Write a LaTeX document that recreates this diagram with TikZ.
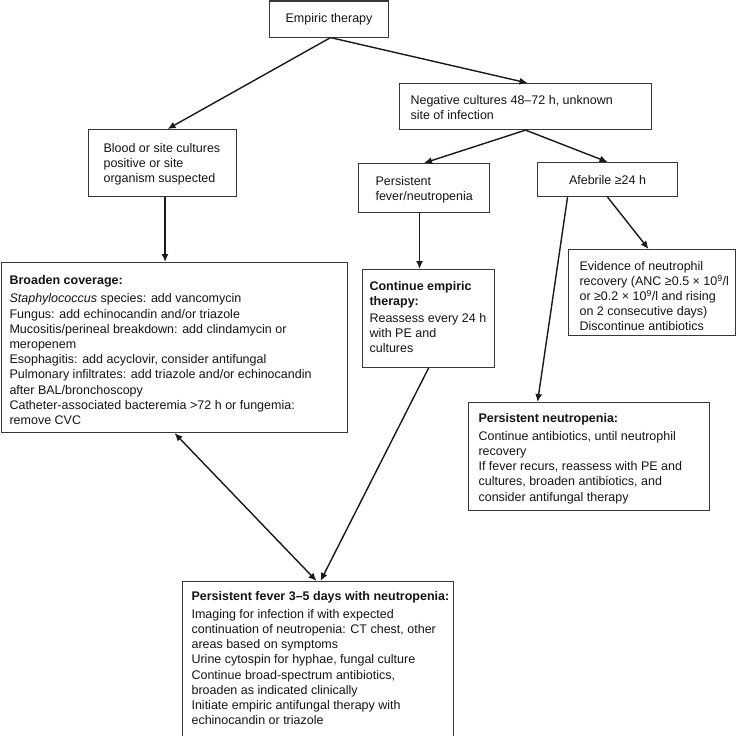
\documentclass[tikz,border=0pt]{standalone}
\usepackage{fontspec}
\setmainfont{Liberation Sans}
\usetikzlibrary{arrows.meta,calc}
\newcommand{\boxfont}{\fontsize{12.5}{15.2}\selectfont\lineskiplimit=-20pt\relax}
% #1 width, #2 height, #3 left padding, #4 top padding, #5 content
\newcommand{\bxt}[5]{\hbox to #1pt{\kern#3pt\parbox[c][#2pt][t]{\dimexpr#1pt-#3pt\relax}{\raggedright\vspace*{#4pt}\strut #5}\hss}}
\tikzset{
  box/.style={draw=black!78, line width=1.1pt, inner sep=0pt, anchor=north west, text=black!92,
    font=\boxfont},
  cbox/.style={box, align=center},
  conn/.style={line width=1.4pt, draw=black!90, -{Latex[length=8pt,width=7pt]}},
  dconn/.style={line width=1.4pt, draw=black!90, {Latex[length=8pt,width=7pt]}-{Latex[length=8pt,width=7pt]}},
}
\begin{document}
\begin{tikzpicture}[x=1pt,y=-1pt]
\useasboundingbox (0,0) rectangle (737,736);
\node[cbox, minimum width=119pt, minimum height=36pt] (emp) at (269,0.5) {Empiric therapy};
\node[box] (neg) at (399,83) {\bxt{252}{46}{11}{10}{Negative cultures 48–72 h, unknown\\site of infection}};
\node[box] (blood) at (88,129) {\bxt{148}{67}{15}{12}{Blood or site cultures\\positive or site\\organism suspected}};
\node[box] (pf) at (358,163) {\bxt{131}{49}{17}{11}{Persistent\\fever/neutropenia}};
\node[cbox, minimum width=140pt, minimum height=34pt] (afeb) at (537,162) {Afebrile ≥24 h};
\node[box] (broad) at (1,262) {\bxt{346}{170}{8}{11.5}{\textbf{Broaden coverage:}\\[3pt]\textit{Staphylococcus} species: add vancomycin\\Fungus: add echinocandin and/or triazole\\Mucositis/perineal breakdown: add clindamycin or\\meropenem\\Esophagitis: add acyclovir, consider antifungal\\Pulmonary infiltrates: add triazole and/or echinocandin\\after BAL/bronchoscopy\\Catheter-associated bacteremia >72 h or fungemia:\\remove CVC}};
\node[box] (cont) at (362,269) {\bxt{132}{98}{7}{10}{\textbf{Continue empiric}\\\textbf{therapy:}\\[2pt]Reassess every 24 h\\with PE and\\cultures}};
\node[box] (ev) at (568,249) {\bxt{167}{86}{11}{10}{Evidence of neutrophil\\recovery (ANC ≥0.5 × 10\textsuperscript{9}/l\\or ≥0.2 × 10\textsuperscript{9}/l and rising\\on 2 consecutive days)\\Discontinue antibiotics}};
\node[box] (pn) at (468,402) {\bxt{241}{108}{10}{9}{\textbf{Persistent neutropenia:}\\[3pt]Continue antibiotics, until neutrophil\\recovery\\If fever recurs, reassess with PE and\\cultures, broaden antibiotics, and\\consider antifungal therapy}};
\node[box] (bot) at (182,581) {\bxt{271}{154.5}{9}{8}{\textbf{Persistent fever 3–5 days with neutropenia:}\\[3pt]Imaging for infection if with expected\\continuation of neutropenia: CT chest, other\\areas based on symptoms\\Urine cytospin for hyphae, fungal culture\\Continue broad-spectrum antibiotics,\\broaden as indicated clinically\\Initiate empiric antifungal therapy with\\echinocandin or triazole}};
\draw[conn] ($(emp.south)+(1.5,0)$) -- ($(blood.north)+(5,0)$);
\draw[conn] ($(emp.south)+(1.5,0)$) -- ($(neg.north)+(2,0)$);
\draw[conn] (neg.south) -- (pf.north);
\draw[conn] (neg.south) -- (afeb.north);
\draw[conn] ($(blood.south)+(2.5,0)$) -- ($(blood.south |- broad.north)+(2.5,0)$);
\draw[conn] ($(pf.south)+(-4.5,0)$) -- ($(pf.south |- cont.north)+(-4.5,0)$);
\draw[conn] (afeb.south) -- ($(ev.north)+(-3.5,0)$);
\draw[conn] ($(afeb.south)+(-40,0)$) -- ($(pn.north)+(-51.5,0)$);
\draw[dconn] (broad.south) -- ($(bot.north)+(-1.5,0)$);
\draw[conn] (cont.south) -- ($(bot.north)+(2.5,0)$);
\end{tikzpicture}
\end{document}
